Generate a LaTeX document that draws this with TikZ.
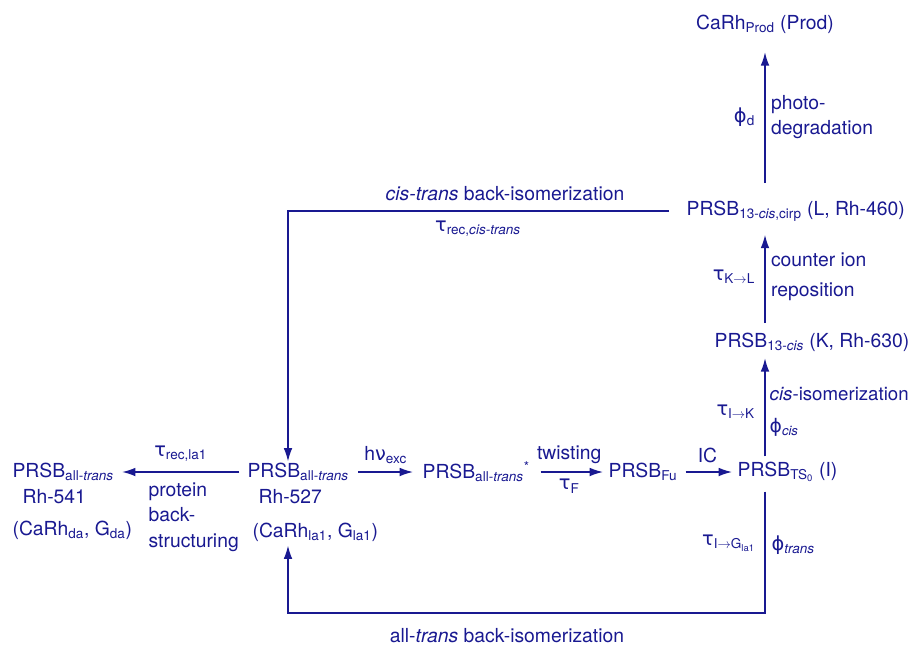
\documentclass[tikz,border=0pt]{standalone}
\usepackage{fontspec}
\setmainfont{TeX Gyre Heros}
\newfontfamily\grec{DejaVu Sans}
\usetikzlibrary{arrows.meta}
\definecolor{bleu}{RGB}{25,25,145}
\newcommand\gtau{{\grec τ}}
\newcommand\gphi{{\grec ϕ}}

\begin{document}
\begin{tikzpicture}[x=0.75pt, y=-0.75pt]
	\tikzset{etat/.style={inner sep=1pt, text=bleu, font=\fontsize{14.5}{17}\selectfont},
		etiq/.style={inner sep=1pt, text=bleu, font=\fontsize{14.5}{19}\selectfont, align=left},
		fleche/.style={-{Latex[length=10pt, width=6.5pt]}, draw=bleu, line width=1.1pt}};
	\useasboundingbox (0,0) rectangle (914,646);

	\coordinate (col) at (765,0);
	\coordinate (gauche) at (288,0);
	\coordinate (bas) at (500,613);

	\node[etat] (prod) at (765,24) {CaRh\textsubscript{Prod} (Prod)};
	\node[etat, anchor=west] (L) at (685,211) {PRSB\textsubscript{13-\textit{cis},cirp} (L, Rh-460)};
	\node[etat, anchor=west] (K) at (713,342) {PRSB\textsubscript{13-\textit{cis}} (K, Rh-630)};
	\node[etat, anchor=west] (I) at (736,472) {PRSB\textsubscript{TS\textsubscript{0}} (I)};
	\node[etat, anchor=west] (fu) at (607,472) {PRSB\textsubscript{Fu}};
	\node[etat, anchor=west] (exc) at (421,472) {PRSB\textsubscript{all-\textit{trans}}\textsuperscript{*}};
	\node[etat, anchor=west] (la1) at (246,472) {PRSB\textsubscript{all-\textit{trans}}};
	\node[etat, anchor=west] (la2) at (257,497) {Rh-527};
	\node[etat, anchor=west] (la3) at (251,532) {(CaRh\textsubscript{la1}, G\textsubscript{la1})};
	\node[etat, anchor=west] (da1) at (11,472) {PRSB\textsubscript{all-\textit{trans}}};
	\node[etat, anchor=west] (da2) at (21,497) {Rh-541};
	\node[etat, anchor=west] (da3) at (11,530) {(CaRh\textsubscript{da}, G\textsubscript{da})};

	% vertical chain
	\draw[fleche, shorten <=12pt, shorten >=13pt] (L.north -| col) to
		node[etiq, left=6pt] {\gphi\textsubscript{d}}
		node[etiq, right=3pt] {photo-\\degradation} (prod.south -| col);
	\draw[fleche, shorten <=6pt, shorten >=9pt] (K.north -| col) to
		node[etiq, left=6pt] {\gtau\textsubscript{K$\rightarrow$L}}
		node[etiq, right=3pt, font=\fontsize{14.5}{22.5}\selectfont] {counter ion\\reposition} (L.south -| col);
	\draw[fleche, shorten <=3pt, shorten >=4pt] (I.north -| col) to
		node[etiq, left=6pt, yshift=-4pt] {\gtau\textsubscript{I$\rightarrow$K}}
		node[etiq, right=2pt, yshift=-4pt, font=\fontsize{14}{24}\selectfont] {\textit{cis}-isomerization\\\gphi\textsubscript{\textit{cis}}} (K.south -| col);

	% horizontal chain
	\draw[fleche, shorten <=5pt, shorten >=5pt] (la1) to node[etiq, above=6pt] {\gtau\textsubscript{rec,la1}} (da1);
	\node[etiq, anchor=west] (pbs) at (147,517) {protein\\back-\\structuring};
	\draw[fleche, shorten <=6pt, shorten >=6pt] (la1) to node[etiq, above=5pt] {h{\grec ν}\textsubscript{exc}} (exc);
	\draw[fleche, shorten <=7pt, shorten >=3pt] (exc) to
		node[etiq, above=5pt] {twisting}
		node[etiq, below=4pt] {\gtau\textsubscript{F}} (fu);
	\draw[fleche, shorten <=5pt, shorten >=3pt] (fu) to node[etiq, above=5pt] {IC} (I);

	% back-isomerizations
	\draw[fleche, shorten <=12pt] (L.west) -| (la1.north -| gauche);
	\node[etiq] (ctlab) at (505,194) {\textit{cis-trans} back-isomerization};
	\node[etiq] (ctrec) at (478,229) {\gtau\textsubscript{rec,\textit{cis-trans}}};

	\draw[fleche, shorten <=6pt, shorten >=2pt] (I.south -| col) |- (bas) -| (la3.south -| gauche);
	\node[etiq, anchor=east] (tig) at (757,543) {\gtau\textsubscript{I$\rightarrow$G\textsubscript{la1}}};
	\node[etiq, anchor=west] (phtr) at (770,545) {\gphi\textsubscript{\textit{trans}}};
	\node[etiq] (atlab) at (507,636) {all-\textit{trans} back-isomerization};
\end{tikzpicture}
\end{document}
